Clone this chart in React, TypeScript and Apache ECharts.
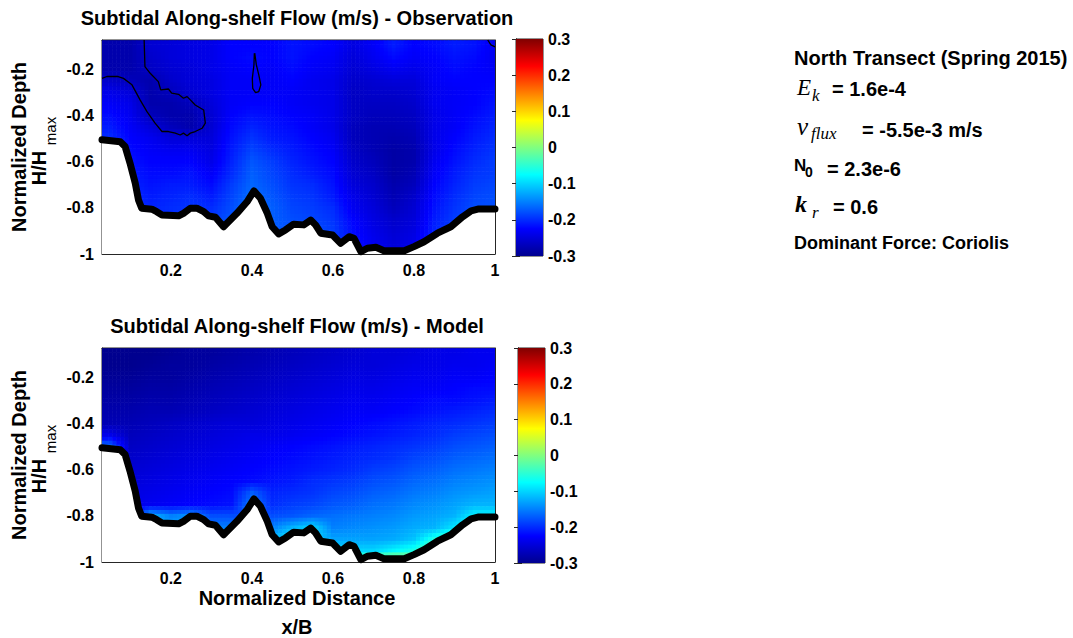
import React, { useEffect, useRef } from "react";
import * as echarts from "echarts";

// ---------- data ----------
const X_MIN = 0.03;
const X_MAX = 1.0;
const Y_MIN = -1.0;
const Y_MAX = -0.074;
const X_TICKS = [0.2, 0.4, 0.6, 0.8, 1];
const Y_TICKS = [-1, -0.8, -0.6, -0.4, -0.2];
const CB_RANGE = [-0.3, 0.3];

const X_COLS = [0.05, 0.1, 0.15, 0.2, 0.25, 0.3, 0.35, 0.4, 0.45, 0.5, 0.55, 0.6, 0.65, 0.7, 0.75, 0.8, 0.85, 0.9, 0.95, 1.0];
const Y_ROWS = [-0.1, -0.15, -0.2, -0.25, -0.3, -0.35, -0.4, -0.45, -0.5, -0.55, -0.6, -0.65, -0.7, -0.75, -0.8, -0.85, -0.9, -0.95, -1.0];
const CELL_DX = 0.05;
const CELL_DY = 0.05;

// Observation: one vertical profile per column of X_COLS, values from Y_ROWS[0] downwards
const OBS_PROFILES: number[][] = [
  [-0.28, -0.28, -0.28, -0.26, -0.24, -0.23, -0.22, -0.21, -0.2],
  [-0.28, -0.28, -0.28, -0.27, -0.25, -0.24, -0.235, -0.23, -0.225, -0.22, -0.215, -0.21, -0.205, -0.2, -0.2],
  [-0.255, -0.26, -0.265, -0.28, -0.28, -0.28, -0.27, -0.25, -0.235, -0.23, -0.225, -0.22, -0.215, -0.21, -0.205, -0.2],
  [-0.25, -0.25, -0.255, -0.26, -0.27, -0.28, -0.28, -0.27, -0.25, -0.235, -0.225, -0.22, -0.21, -0.205, -0.2, -0.2],
  [-0.245, -0.245, -0.25, -0.25, -0.255, -0.27, -0.28, -0.28, -0.25, -0.235, -0.225, -0.215, -0.21, -0.2, -0.195, -0.19],
  [-0.24, -0.24, -0.24, -0.245, -0.245, -0.25, -0.255, -0.255, -0.25, -0.245, -0.24, -0.23, -0.22, -0.21, -0.2, -0.19, -0.185],
  [-0.225, -0.225, -0.23, -0.23, -0.23, -0.23, -0.225, -0.22, -0.215, -0.21, -0.205, -0.2, -0.19, -0.185, -0.18, -0.175, -0.17],
  [-0.225, -0.22, -0.225, -0.23, -0.23, -0.225, -0.215, -0.205, -0.195, -0.185, -0.175, -0.17, -0.165, -0.16, -0.155],
  [-0.225, -0.225, -0.23, -0.23, -0.23, -0.225, -0.22, -0.215, -0.21, -0.2, -0.19, -0.185, -0.18, -0.175, -0.17, -0.17, -0.17, -0.17],
  [-0.215, -0.215, -0.22, -0.225, -0.23, -0.23, -0.225, -0.22, -0.215, -0.21, -0.205, -0.2, -0.195, -0.19, -0.185, -0.18, -0.18],
  [-0.22, -0.225, -0.23, -0.235, -0.235, -0.235, -0.23, -0.23, -0.225, -0.22, -0.215, -0.21, -0.2, -0.195, -0.19, -0.185, -0.18, -0.18],
  [-0.225, -0.23, -0.235, -0.24, -0.24, -0.24, -0.24, -0.24, -0.235, -0.23, -0.225, -0.22, -0.215, -0.21, -0.2, -0.195, -0.19, -0.19, -0.19],
  [-0.245, -0.25, -0.255, -0.26, -0.265, -0.265, -0.265, -0.27, -0.27, -0.265, -0.26, -0.255, -0.25, -0.24, -0.235, -0.225, -0.22, -0.215, -0.215],
  [-0.23, -0.235, -0.245, -0.255, -0.26, -0.265, -0.27, -0.275, -0.275, -0.275, -0.27, -0.265, -0.26, -0.255, -0.25, -0.245, -0.24, -0.235, -0.235],
  [-0.21, -0.22, -0.235, -0.25, -0.26, -0.265, -0.27, -0.275, -0.28, -0.285, -0.285, -0.285, -0.28, -0.275, -0.27, -0.26, -0.255, -0.25, -0.25],
  [-0.225, -0.23, -0.24, -0.25, -0.255, -0.26, -0.265, -0.27, -0.275, -0.28, -0.28, -0.275, -0.27, -0.26, -0.255, -0.25, -0.245, -0.24, -0.24],
  [-0.22, -0.225, -0.23, -0.23, -0.235, -0.235, -0.24, -0.24, -0.24, -0.24, -0.235, -0.23, -0.225, -0.22, -0.215, -0.21, -0.205, -0.2],
  [-0.21, -0.215, -0.22, -0.225, -0.23, -0.23, -0.23, -0.23, -0.225, -0.22, -0.215, -0.21, -0.205, -0.2, -0.195, -0.19, -0.19],
  [-0.215, -0.22, -0.225, -0.225, -0.225, -0.225, -0.22, -0.215, -0.21, -0.205, -0.2, -0.195, -0.19, -0.185, -0.18, -0.18],
  [-0.235, -0.235, -0.23, -0.225, -0.22, -0.215, -0.21, -0.205, -0.2, -0.195, -0.19, -0.19, -0.185, -0.18, -0.18],
];

// Model: one row per Y_ROWS entry, one value per X_COLS entry (null = below the seabed)
const MODEL_ROWS: (number | null)[][] = [
  [-0.3, -0.3, -0.3, -0.295, -0.29, -0.29, -0.285, -0.28, -0.275, -0.27, -0.265, -0.26, -0.255, -0.25, -0.25, -0.245, -0.24, -0.24, -0.235, -0.235],
  [-0.3, -0.3, -0.295, -0.29, -0.29, -0.285, -0.28, -0.275, -0.27, -0.265, -0.26, -0.255, -0.25, -0.25, -0.245, -0.24, -0.24, -0.235, -0.235, -0.23],
  [-0.295, -0.295, -0.29, -0.29, -0.285, -0.28, -0.275, -0.27, -0.265, -0.26, -0.255, -0.25, -0.245, -0.245, -0.24, -0.235, -0.235, -0.23, -0.23, -0.225],
  [-0.29, -0.29, -0.285, -0.285, -0.28, -0.275, -0.27, -0.265, -0.26, -0.255, -0.25, -0.245, -0.24, -0.24, -0.235, -0.23, -0.23, -0.225, -0.22, -0.22],
  [-0.285, -0.285, -0.28, -0.28, -0.275, -0.27, -0.265, -0.26, -0.255, -0.25, -0.245, -0.24, -0.235, -0.235, -0.23, -0.225, -0.22, -0.22, -0.215, -0.21],
  [-0.28, -0.28, -0.275, -0.275, -0.27, -0.265, -0.26, -0.255, -0.25, -0.245, -0.24, -0.235, -0.23, -0.23, -0.225, -0.22, -0.215, -0.21, -0.205, -0.2],
  [-0.275, -0.275, -0.27, -0.265, -0.26, -0.255, -0.25, -0.25, -0.245, -0.24, -0.235, -0.23, -0.225, -0.22, -0.215, -0.21, -0.205, -0.2, -0.195, -0.19],
  [-0.24, -0.27, -0.265, -0.26, -0.255, -0.25, -0.245, -0.24, -0.24, -0.235, -0.23, -0.225, -0.22, -0.215, -0.21, -0.205, -0.2, -0.19, -0.185, -0.18],
  [-0.16, -0.265, -0.26, -0.255, -0.25, -0.245, -0.24, -0.235, -0.23, -0.225, -0.22, -0.215, -0.21, -0.205, -0.2, -0.195, -0.19, -0.18, -0.175, -0.17],
  [null, -0.26, -0.255, -0.25, -0.245, -0.24, -0.235, -0.23, -0.225, -0.22, -0.215, -0.21, -0.205, -0.2, -0.195, -0.185, -0.18, -0.17, -0.165, -0.16],
  [null, -0.255, -0.25, -0.245, -0.24, -0.235, -0.23, -0.225, -0.22, -0.215, -0.21, -0.205, -0.2, -0.19, -0.185, -0.175, -0.17, -0.16, -0.155, -0.15],
  [null, -0.25, -0.245, -0.24, -0.235, -0.23, -0.225, -0.22, -0.215, -0.21, -0.2, -0.195, -0.19, -0.18, -0.175, -0.165, -0.16, -0.15, -0.145, -0.14],
  [null, -0.245, -0.24, -0.235, -0.23, -0.225, -0.22, -0.17, -0.205, -0.2, -0.195, -0.185, -0.18, -0.17, -0.165, -0.155, -0.15, -0.14, -0.135, -0.13],
  [null, -0.24, -0.235, -0.23, -0.225, -0.22, -0.215, -0.15, -0.2, -0.19, -0.185, -0.175, -0.17, -0.16, -0.155, -0.145, -0.14, -0.13, -0.12, -0.12],
  [null, -0.22, -0.12, -0.15, -0.14, -0.18, -0.18, null, -0.18, -0.175, -0.165, -0.16, -0.155, -0.15, -0.145, -0.135, -0.13, -0.12, -0.08, -0.08],
  [null, null, -0.12, -0.13, -0.13, -0.15, -0.15, null, -0.15, -0.12, -0.1, -0.15, -0.145, -0.14, -0.135, -0.125, -0.12, -0.09, -0.05, null],
  [null, null, null, null, null, -0.12, -0.12, null, -0.12, -0.08, -0.1, -0.13, -0.13, -0.13, -0.125, -0.11, -0.06, -0.02, null, null],
  [null, null, null, null, null, null, null, null, -0.1, null, -0.08, -0.09, -0.1, -0.1, -0.08, -0.06, 0.0, null, null, null],
  [null, null, null, null, null, null, null, null, null, null, null, -0.05, 0.0, 0.04, 0.06, 0.04, null, null, null, null],
];

// Seabed (normalized distance, normalized depth)
const BED: number[][] = [
  [0.03, -0.506], [0.075, -0.514], [0.087, -0.535], [0.099, -0.606], [0.112, -0.693], [0.12, -0.766],
  [0.128, -0.802], [0.153, -0.806], [0.165, -0.817], [0.178, -0.831], [0.219, -0.835], [0.231, -0.824],
  [0.248, -0.802], [0.264, -0.802], [0.281, -0.817], [0.293, -0.835], [0.31, -0.841], [0.33, -0.882],
  [0.363, -0.824], [0.388, -0.774], [0.405, -0.727], [0.421, -0.759], [0.438, -0.824], [0.45, -0.882],
  [0.466, -0.913], [0.483, -0.896], [0.503, -0.871], [0.528, -0.874], [0.545, -0.853], [0.557, -0.874],
  [0.57, -0.91], [0.599, -0.918], [0.619, -0.954], [0.64, -0.925], [0.652, -0.932], [0.669, -0.99],
  [0.685, -0.975], [0.706, -0.971], [0.726, -0.986], [0.776, -0.986], [0.8, -0.968], [0.825, -0.947],
  [0.858, -0.91], [0.891, -0.882], [0.92, -0.839], [0.941, -0.813], [0.96, -0.805], [1.0, -0.805],
];

// Contour lines of the observation
const CONTOUR_A: number[][] = [
  [0.134, -0.074], [0.136, -0.189], [0.149, -0.218], [0.169, -0.254], [0.175, -0.29], [0.194, -0.286],
  [0.202, -0.304], [0.219, -0.309], [0.231, -0.326], [0.24, -0.319], [0.248, -0.333], [0.26, -0.355],
  [0.281, -0.377], [0.285, -0.434], [0.277, -0.456], [0.26, -0.47], [0.248, -0.477], [0.24, -0.488],
  [0.231, -0.477], [0.223, -0.485], [0.211, -0.477], [0.194, -0.47], [0.178, -0.47], [0.161, -0.434],
  [0.141, -0.384], [0.124, -0.333], [0.104, -0.268], [0.083, -0.24], [0.07, -0.232], [0.042, -0.232],
  [0.03, -0.24],
];
const CONTOUR_B: number[][] = [
  [0.406, -0.131], [0.405, -0.182], [0.401, -0.24], [0.402, -0.283], [0.409, -0.302], [0.417, -0.297],
  [0.422, -0.268], [0.417, -0.225], [0.411, -0.182], [0.407, -0.131], [0.406, -0.131],
];
const CONTOUR_C: number[][] = [[0.982, -0.074], [0.99, -0.095], [1.0, -0.104]];

// ---------- styling ----------
const SANS = '"Liberation Sans", Arial, Helvetica, sans-serif';
const SERIF = '"Liberation Serif", "Times New Roman", serif';
const AXIS_COLOR = "#262626";
const JET = ["#00008F", "#0000FF", "#0080FF", "#00FFFF", "#80FF80", "#FFFF00", "#FF8000", "#FF0000", "#800000"];
const SUB_X = 5;
const SUB_Y = 3;

const PLOTS = [
  { left: 102, top: 40, width: 393, height: 214 },
  { left: 102, top: 348, width: 393, height: 214 },
];
const BARS = [
  { left: 516, top: 39, width: 27, height: 217 },
  { left: 518, top: 348, width: 27, height: 215 },
];

const JET_RGB = JET.map((h) => [parseInt(h.slice(1, 3), 16), parseInt(h.slice(3, 5), 16), parseInt(h.slice(5, 7), 16)]);
function jetColor(v: number) {
  let t = (v - CB_RANGE[0]) / (CB_RANGE[1] - CB_RANGE[0]);
  t = Math.max(0, Math.min(1, t));
  const s = t * (JET_RGB.length - 1);
  const k = Math.min(JET_RGB.length - 2, Math.floor(s));
  const f = s - k;
  const a = JET_RGB[k];
  const b = JET_RGB[k + 1];
  const c = [0, 1, 2].map((q) => Math.round(a[q] + (b[q] - a[q]) * f));
  return `rgb(${c[0]},${c[1]},${c[2]})`;
}

// gridded lookups (row j, column i)
const OBS_GRID: (number | null)[][] = Y_ROWS.map((_, j) => X_COLS.map((__, i) => (OBS_PROFILES[i][j] === undefined ? null : OBS_PROFILES[i][j])));
const MODEL_GRID = MODEL_ROWS;

function cellsFrom(grid: (number | null)[][]) {
  const out: number[][] = [];
  grid.forEach((row, j) => {
    row.forEach((v, i) => {
      if (v !== null && v !== undefined) out.push([X_COLS[i], Y_ROWS[j], v, i, j]);
    });
  });
  return out;
}

const makeCellRender = (grid: (number | null)[][]) => (params: any, api: any) => {
  const x = api.value(0);
  const y = api.value(1);
  const v = api.value(2);
  const i = api.value(3);
  const j = api.value(4);
  const get = (ii: number, jj: number) => {
    const r = grid[jj];
    if (!r) return null;
    const val = r[ii];
    return val === null || val === undefined ? null : val;
  };
  const p0 = api.coord([x - CELL_DX / 2, y + CELL_DY / 2]);
  const p1 = api.coord([x + CELL_DX / 2, y - CELL_DY / 2]);
  const W = p1[0] - p0[0];
  const H = p1[1] - p0[1];
  const cs = params.coordSys;
  const clip = { x: cs.x, y: cs.y, width: cs.width, height: cs.height };
  const children: any[] = [];
  for (let a = 0; a < SUB_X; a++) {
    for (let b = 0; b < SUB_Y; b++) {
      const fx = (a + 0.5) / SUB_X - 0.5;
      const fy = (b + 0.5) / SUB_Y - 0.5;
      const si = fx < 0 ? -1 : 1;
      const sj = fy < 0 ? -1 : 1;
      const wx = Math.abs(fx);
      const wy = Math.abs(fy);
      const gh = get(i + si, j);
      const gv = get(i, j + sj);
      const vh = gh === null ? v : gh;
      const vv = gv === null ? v : gv;
      const gd = get(i + si, j + sj);
      const vd = gd === null ? (vh + vv) / 2 : gd;
      const val = v * (1 - wx) * (1 - wy) + vh * wx * (1 - wy) + vv * (1 - wx) * wy + vd * wx * wy;
      const shape = echarts.graphic.clipRectByRect(
        { x: p0[0] + (a * W) / SUB_X, y: p0[1] + (b * H) / SUB_Y, width: W / SUB_X + 0.6, height: H / SUB_Y + 0.6 },
        clip
      );
      if (shape) children.push({ type: "rect", shape, style: { fill: jetColor(val) } });
    }
  }
  return { type: "group", children };
};

const barRender = (params: any, api: any) => {
  const p0 = api.coord([0, api.value(1)]);
  const p1 = api.coord([1, api.value(0)]);
  const stops = JET.slice()
    .reverse()
    .map((c, i) => ({ offset: i / (JET.length - 1), color: c }));
  return {
    type: "rect",
    shape: { x: p0[0], y: p0[1], width: p1[0] - p0[0], height: p1[1] - p0[1] },
    style: { fill: new echarts.graphic.LinearGradient(0, 0, 0, 1, stops) },
  };
};

function plotAxes(gi: number) {
  const labelStyle = { fontFamily: SANS, fontSize: 16, fontWeight: "bold", color: "#000" };
  const xa = [
    {
      type: "value", gridIndex: gi, min: X_MIN, max: X_MAX, position: "bottom",
      axisLine: { show: true, lineStyle: { color: AXIS_COLOR } },
      axisTick: { show: true, inside: true, length: 5, customValues: X_TICKS, lineStyle: { color: AXIS_COLOR } },
      axisLabel: { show: true, customValues: X_TICKS, margin: 8, ...labelStyle },
      splitLine: { show: false },
    },
    {
      type: "value", gridIndex: gi, min: X_MIN, max: X_MAX, position: "top",
      axisLine: { show: true, lineStyle: { color: AXIS_COLOR } },
      axisTick: { show: true, inside: true, length: 5, customValues: X_TICKS, lineStyle: { color: AXIS_COLOR } },
      axisLabel: { show: false },
      splitLine: { show: false },
    },
  ];
  const ya = [
    {
      type: "value", gridIndex: gi, min: Y_MIN, max: Y_MAX, position: "left",
      axisLine: { show: true, lineStyle: { color: AXIS_COLOR } },
      axisTick: { show: true, inside: true, length: 5, customValues: Y_TICKS, lineStyle: { color: AXIS_COLOR } },
      axisLabel: { show: true, customValues: Y_TICKS, margin: 8, ...labelStyle },
      splitLine: { show: false },
    },
    {
      type: "value", gridIndex: gi, min: Y_MIN, max: Y_MAX, position: "right",
      axisLine: { show: true, lineStyle: { color: AXIS_COLOR } },
      axisTick: { show: true, inside: true, length: 5, customValues: Y_TICKS, lineStyle: { color: AXIS_COLOR } },
      axisLabel: { show: false },
      splitLine: { show: false },
    },
  ];
  return { xa, ya };
}

function barAxes(gi: number) {
  const xa = { type: "value", gridIndex: gi, min: 0, max: 1, show: false };
  const ya = [
    {
      type: "value", gridIndex: gi, min: CB_RANGE[0], max: CB_RANGE[1], interval: 0.1, position: "right",
      axisLine: { show: true, lineStyle: { color: AXIS_COLOR } },
      axisTick: { show: true, inside: true, length: 4, lineStyle: { color: AXIS_COLOR } },
      axisLabel: { show: true, margin: 5, fontFamily: SANS, fontSize: 16, fontWeight: "bold", color: "#000" },
      splitLine: { show: false },
    },
    {
      type: "value", gridIndex: gi, min: CB_RANGE[0], max: CB_RANGE[1], interval: 0.1, position: "left",
      axisLine: { show: true, lineStyle: { color: AXIS_COLOR } },
      axisTick: { show: true, inside: true, length: 4, lineStyle: { color: AXIS_COLOR } },
      axisLabel: { show: false },
      splitLine: { show: false },
    },
  ];
  return { xa, ya };
}

function txt(text: string, x: number, y: number, opts: any = {}) {
  return {
    type: "text",
    x,
    y,
    rotation: opts.rotation || 0,
    z: 100,
    style: {
      text,
      fontFamily: opts.family || SANS,
      fontSize: opts.size || 20,
      fontWeight: opts.weight || "bold",
      fontStyle: opts.style || "normal",
      fill: "#000",
      align: opts.align || "center",
      textAlign: opts.align || "center",
      verticalAlign: "middle",
      textVerticalAlign: "middle",
    },
  };
}

export default function App() {
  const ref = useRef<HTMLDivElement>(null);
  useEffect(() => {
    if (!ref.current) return;
    const chart = echarts.init(ref.current, null, { renderer: "svg" });
    const a0 = plotAxes(0);
    const a1 = plotAxes(1);
    const b0 = barAxes(2);
    const b1 = barAxes(3);

    const bedSeries = (xi: number, yi: number) => ({
      type: "line",
      xAxisIndex: xi,
      yAxisIndex: yi,
      data: BED,
      symbol: "none",
      z: 3,
      clip: true,
      lineStyle: { color: "#000", width: 7, join: "round", cap: "round" },
      areaStyle: { color: "#ffffff", opacity: 1, origin: "start" },
    });
    const contour = (d: number[][]) => ({
      type: "line",
      xAxisIndex: 0,
      yAxisIndex: 0,
      data: d,
      symbol: "none",
      z: 4,
      clip: true,
      lineStyle: { color: "#000", width: 1.3 },
    });

    const graphics: any[] = [];
    [0, 308].forEach((dy, k) => {
      graphics.push(
        txt(k === 0 ? "Subtidal Along-shelf Flow (m/s) - Observation" : "Subtidal Along-shelf Flow (m/s) - Model", 297, 18 + dy, { size: 20 }),
        txt("Normalized Depth", 19, 147 + dy, { rotation: Math.PI / 2 }),
        txt("H/H", 39, 168 + dy, { rotation: Math.PI / 2 }),
        txt("max", 50, 131 + dy, { rotation: Math.PI / 2, size: 15, weight: "normal" })
      );
    });
    graphics.push(
      txt("Normalized Distance", 297, 598),
      txt("x/B", 297, 627),
      txt("North Transect (Spring 2015)", 794, 58, { align: "left" }),
      txt("E", 797, 87, { align: "left", family: SERIF, style: "italic", weight: "normal", size: 23 }),
      txt("k", 812, 95, { align: "left", family: SERIF, style: "italic", weight: "normal", size: 17 }),
      txt("= 1.6e-4", 832, 89, { align: "left" }),
      txt("v", 797, 126, { align: "left", family: SERIF, style: "italic", weight: "normal", size: 25 }),
      txt("flux", 811, 133, { align: "left", family: SERIF, style: "italic", weight: "normal", size: 17 }),
      txt("= -5.5e-3 m/s", 862, 130, { align: "left" }),
      txt("N", 794, 165, { align: "left", size: 17 }),
      txt("0", 805, 172, { align: "left", size: 14 }),
      txt("= 2.3e-6", 827, 169, { align: "left" }),
      txt("k", 795, 204, { align: "left", family: SERIF, style: "italic", weight: "bold", size: 24 }),
      txt("r", 812, 212, { align: "left", family: SERIF, style: "italic", weight: "normal", size: 17 }),
      txt("= 0.6", 833, 207, { align: "left" }),
      txt("Dominant Force: Coriolis", 794, 243, { align: "left", size: 18 })
    );

    chart.setOption({
      animation: false,
      backgroundColor: "#ffffff",
      textStyle: { fontFamily: SANS },
      grid: [
        { ...PLOTS[0], show: true, borderColor: AXIS_COLOR, borderWidth: 1, backgroundColor: "transparent" },
        { ...PLOTS[1], show: true, borderColor: AXIS_COLOR, borderWidth: 1, backgroundColor: "transparent" },
        { ...BARS[0], show: true, borderColor: AXIS_COLOR, borderWidth: 1, backgroundColor: "transparent" },
        { ...BARS[1], show: true, borderColor: AXIS_COLOR, borderWidth: 1, backgroundColor: "transparent" },
      ],
      xAxis: [...a0.xa, ...a1.xa, b0.xa, b1.xa],
      yAxis: [...a0.ya, ...a1.ya, ...b0.ya, ...b1.ya],
      series: [
        { type: "custom", xAxisIndex: 0, yAxisIndex: 0, data: cellsFrom(OBS_GRID), renderItem: makeCellRender(OBS_GRID), encode: { x: 0, y: 1 }, z: 1 },
        { type: "custom", xAxisIndex: 2, yAxisIndex: 2, data: cellsFrom(MODEL_GRID), renderItem: makeCellRender(MODEL_GRID), encode: { x: 0, y: 1 }, z: 1 },
        bedSeries(0, 0),
        bedSeries(2, 2),
        contour(CONTOUR_A),
        contour(CONTOUR_B),
        contour(CONTOUR_C),
        { type: "custom", xAxisIndex: 4, yAxisIndex: 4, data: [CB_RANGE], renderItem: barRender, encode: { y: [0, 1] }, z: 1 },
        { type: "custom", xAxisIndex: 5, yAxisIndex: 6, data: [CB_RANGE], renderItem: barRender, encode: { y: [0, 1] }, z: 1 },
      ],
      graphic: graphics,
    });
    return () => chart.dispose();
  }, []);
  return (
    <div
      ref={ref}
      style={{ position: "fixed", left: 0, top: 0, width: 1073, height: 638, background: "#fff" }}
    />
  );
}
